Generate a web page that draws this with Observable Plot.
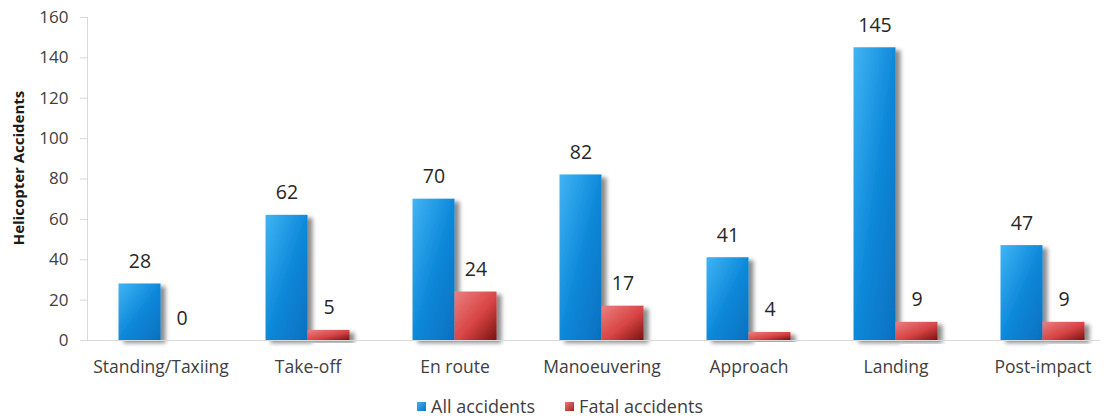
<!DOCTYPE html>
<html>
<head>
<meta charset="utf-8">
<script src="https://cdn.jsdelivr.net/npm/d3@7"></script>
<script src="https://cdn.jsdelivr.net/npm/@observablehq/plot@0.6"></script>
<style>
  body { margin: 0; background: #fff; font-family: "Open Sans", sans-serif; color: #404040; }
  #legend { display: flex; justify-content: center; gap: 30px; font-size: 18px; margin-left: 14px; margin-top: 6px; }
  #legend span.item { display: flex; align-items: center; gap: 5px; }
  #legend span.sw { width: 9px; height: 9px; display: inline-block; }
</style>
</head>
<body>
<div id="chart"></div>
<div id="legend">
  <span class="item"><span class="sw" style="background:linear-gradient(135deg,#3fb2f2,#0a74c4)"></span>All accidents</span>
  <span class="item"><span class="sw" style="background:linear-gradient(135deg,#ec7a7a,#a82020)"></span>Fatal accidents</span>
</div>
<script>
const categories = ["Standing/Taxiing", "Take-off", "En route", "Manoeuvering", "Approach", "Landing", "Post-impact"];
const allAccidents = [28, 62, 70, 82, 41, 145, 47];
const fatalAccidents = [0, 5, 24, 17, 4, 9, 9];
const yTicks = [0, 20, 40, 60, 80, 100, 120, 140, 160];

const allData = categories.map((c, i) => ({category: c, value: allAccidents[i]}));
const fatalData = categories.map((c, i) => ({category: c, value: fatalAccidents[i]}));

const plot = Plot.plot({
  width: 1106,
  height: 388,
  marginLeft: 87,
  marginRight: 6,
  marginTop: 17,
  marginBottom: 48,
  style: {fontFamily: "Open Sans, sans-serif", color: "#404040", background: "#fff"},
  x: {type: "band", domain: categories, range: [86.5, 1115.5], padding: 0, label: null},
  y: {domain: [0, 160], label: null},
  marks: [
    Plot.axisY({ticks: yTicks, tickSize: 7, tickPadding: 12, stroke: "#d9d9d9", fontSize: 17, fill: "#404040", label: null}),
    Plot.axisX({tickSize: 0, tickPadding: 20, fontSize: 17.5, fill: "#404040", label: null}),
    Plot.ruleX([categories[0]], {y1: 0, y2: 160, dx: -73.5, stroke: "#d9d9d9"}),
    Plot.barY(allData, {x: "category", y: "value", insetLeft: 31.5, insetRight: 73.5, fill: "url(#gradBlue)", className: "shadowbars"}),
    Plot.barY(fatalData, {x: "category", y: "value", insetLeft: 73.5, insetRight: 31.5, fill: "url(#gradRed)", className: "shadowbars"}),
    Plot.ruleY([0], {stroke: "#d9d9d9"}),
    Plot.text(allData, {x: "category", y: "value", text: d => String(d.value), dx: -21, dy: -16, lineAnchor: "bottom", fontSize: 19.5, fill: "#262626"}),
    Plot.text(fatalData, {x: "category", y: "value", text: d => String(d.value), dx: 21, dy: -16, lineAnchor: "bottom", fontSize: 19.5, fill: "#262626"}),
    Plot.text(["Helicopter Accidents"], {frameAnchor: "left", textAnchor: "middle", dx: -68, dy: -11, rotate: -90, fontSize: 15, fontWeight: "bold", fill: "#1a1a1a"})
  ]
});

const svg = d3.select(plot);
const defs = svg.insert("defs", ":first-child");
const gb = defs.append("linearGradient").attr("id", "gradBlue").attr("x1", 0).attr("y1", 0).attr("x2", 1).attr("y2", 1);
gb.append("stop").attr("offset", "0%").attr("stop-color", "#41b4f4");
gb.append("stop").attr("offset", "55%").attr("stop-color", "#0a86d8");
gb.append("stop").attr("offset", "100%").attr("stop-color", "#0670bf");
const gr = defs.append("linearGradient").attr("id", "gradRed").attr("x1", 0).attr("y1", 0).attr("x2", 1).attr("y2", 1);
gr.append("stop").attr("offset", "0%").attr("stop-color", "#ea8080");
gr.append("stop").attr("offset", "55%").attr("stop-color", "#d84444");
gr.append("stop").attr("offset", "100%").attr("stop-color", "#7a1212");
const f = defs.append("filter").attr("id", "shadow").attr("x", "-20%").attr("y", "-20%").attr("width", "160%").attr("height", "140%");
f.append("feDropShadow").attr("dx", 5).attr("dy", 3).attr("stdDeviation", 2).attr("flood-color", "#000").attr("flood-opacity", 0.45);
svg.selectAll(".shadowbars rect").attr("filter", "url(#shadow)");

document.getElementById("chart").appendChild(plot);
</script>
</body>
</html>
